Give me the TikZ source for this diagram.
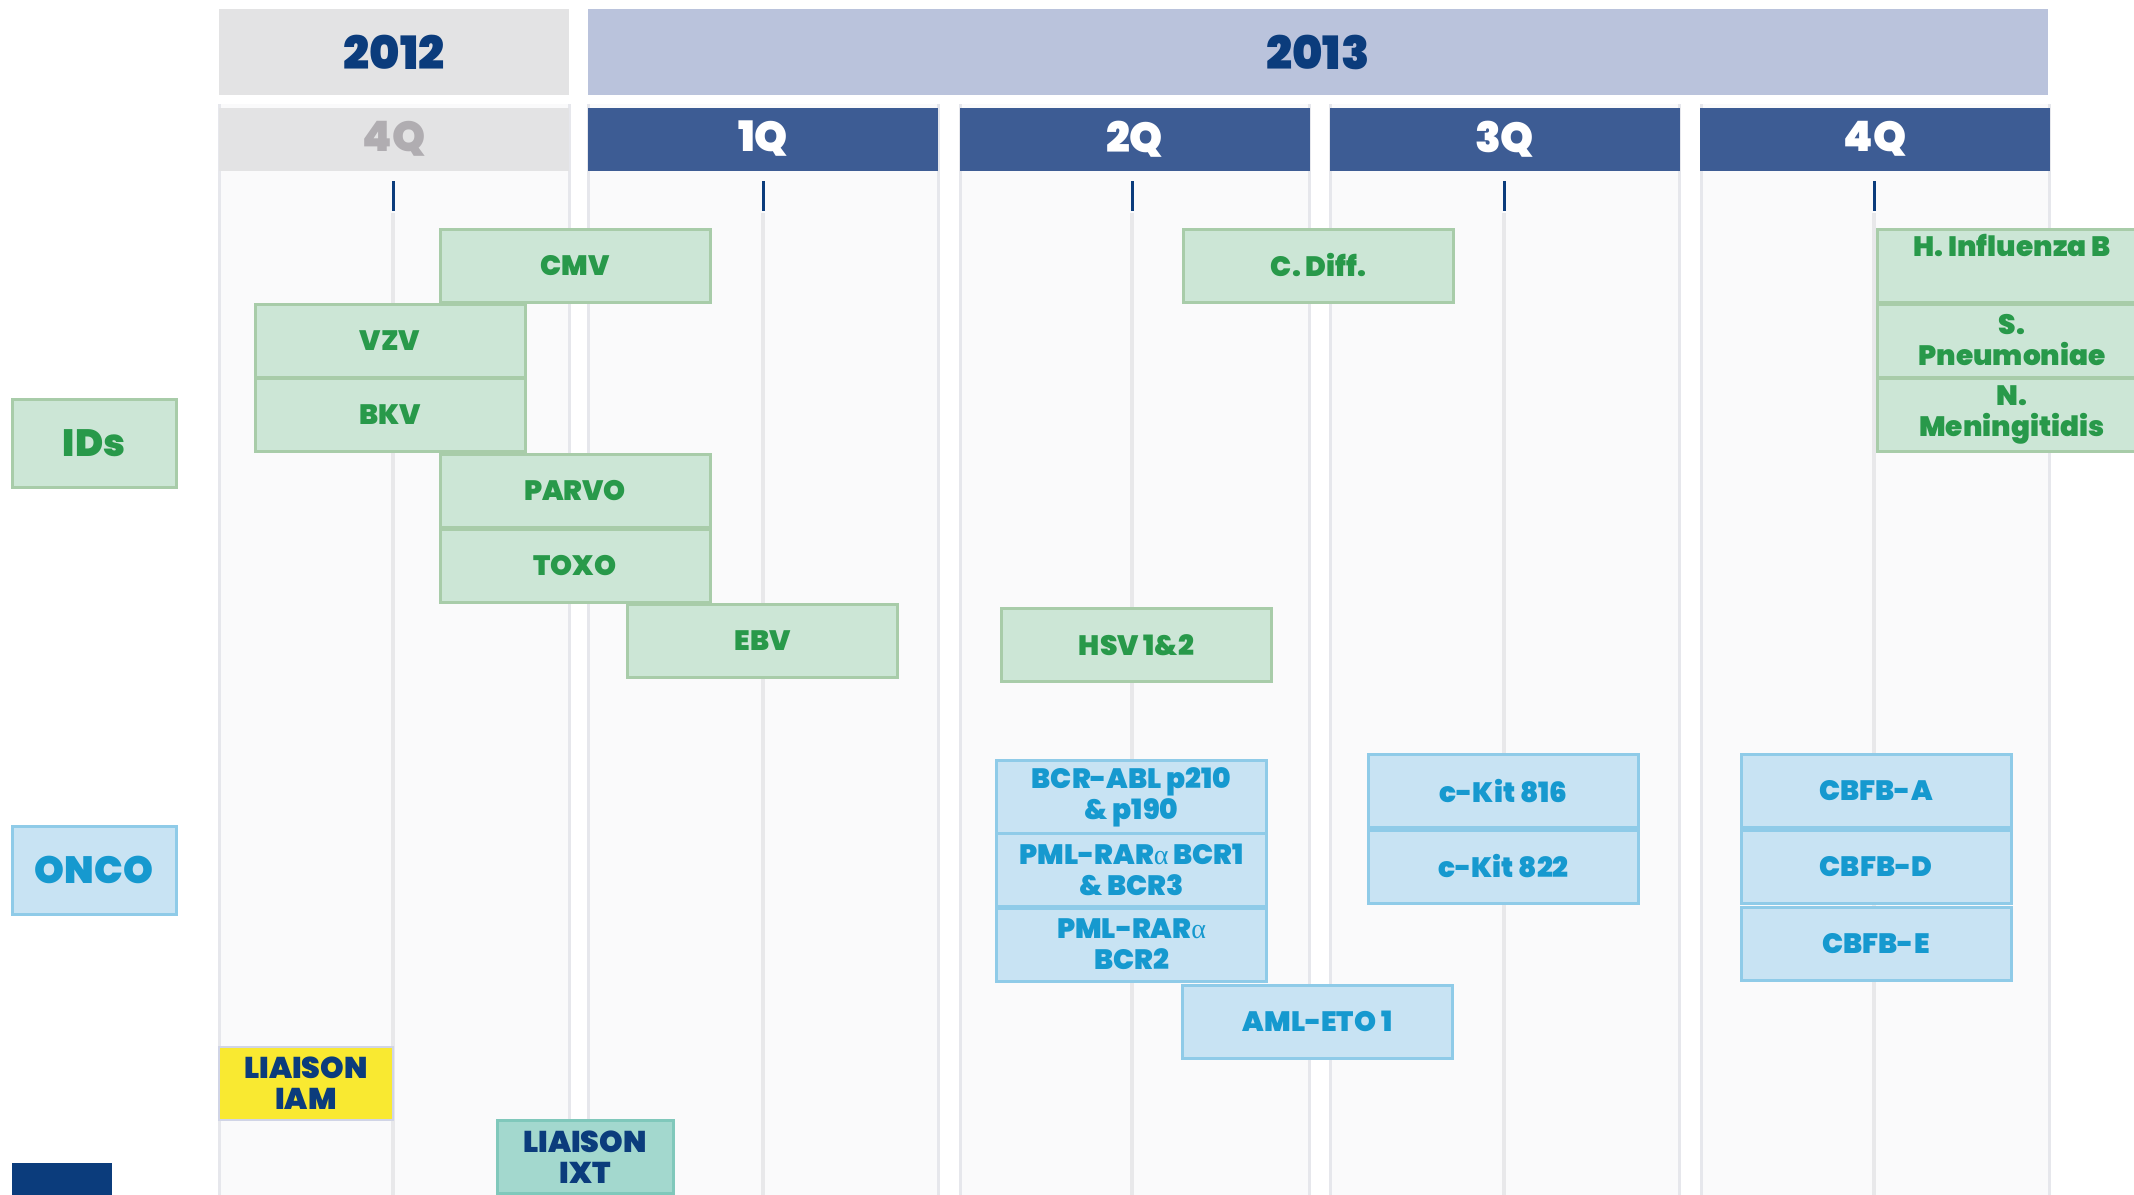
\documentclass[tikz,border=0pt]{standalone}
\usepackage{fontspec}
\setmainfont{Poppins Black}
\newfontfamily\blk{Poppins Black}
\newfontfamily\grk{Liberation Serif}
\definecolor{navy}{HTML}{0B3C7C}
\definecolor{y12}{HTML}{E3E3E4}
\definecolor{y13}{HTML}{BAC3DC}
\definecolor{qhd}{HTML}{3D5C94}
\definecolor{qgray}{HTML}{B0ADB1}
\definecolor{colbg}{HTML}{FAFAFB}
\definecolor{coledge}{HTML}{E6E7EC}
\definecolor{cline}{HTML}{E8E8EA}
\definecolor{gfill}{HTML}{CCE6D6}
\definecolor{gedge}{HTML}{A8CCA9}
\definecolor{gtext}{HTML}{28994A}
\definecolor{bfill}{HTML}{C8E3F3}
\definecolor{bedge}{HTML}{8FCBE8}
\definecolor{btext}{HTML}{1699CF}
\definecolor{yel}{HTML}{F9E931}
\definecolor{yedge}{HTML}{D0D4E6}
\definecolor{teal}{HTML}{A3D8CE}
\definecolor{tedge}{HTML}{80C8BB}
\begin{document}
\begin{tikzpicture}[x=0.5pt,y=-0.5pt,
  yearhd/.style={rectangle,inner sep=0pt,minimum height=43pt,text=navy,font=\blk\fontsize{23pt}{26pt}\selectfont},
  qhead/.style={rectangle,fill=qhd,inner sep=0pt,minimum width=175pt,minimum height=31.5pt,text=white,font=\blk\fontsize{21pt}{24pt}\selectfont},
  boxbase/.style={rectangle,inner sep=0pt,minimum width=135pt,minimum height=36.5pt,line width=1.5pt,align=center,font=\fontsize{14pt}{15.5pt}\selectfont},
  gbox/.style={boxbase,fill=gfill,draw=gedge,text=gtext},
  bbox/.style={boxbase,fill=bfill,draw=bedge,text=btext},
  rowlbl/.style={rectangle,inner sep=0pt,minimum width=82pt,minimum height=44pt,line width=1.5pt,font=\fontsize{19pt}{22pt}\selectfont},
  liaison/.style={rectangle,inner sep=0pt,minimum width=87pt,minimum height=36.5pt,line width=1pt,align=center,text=navy,font=\fontsize{15pt}{15.5pt}\selectfont},
]
\clip (0,0) rectangle (2134,1194);
\fill[white] (0,0) rectangle (2134,1194);
% column bodies
\foreach \l/\r in {219/569,588/938,960/1309,1330/1679,1701/2049}{
  \fill[colbg] (\l,104) rectangle (\r,1200);
  \draw[coledge,line width=1.5pt] (\l,104) -- (\l,1200);
  \draw[coledge,line width=1.5pt] (\r,104) -- (\r,1200);
}
% centre lines and ticks
\foreach \c in {393,763,1132,1504,1874}{
  \draw[cline,line width=1.6pt] (\c,213) -- (\c,1200);
  \draw[navy,line width=1.5pt] (\c,181) -- (\c,211);
}
% year headers
\node[yearhd,fill=y12,minimum width=175pt] (y2012) at (394,52) {2012};
\node[yearhd,fill=y13,minimum width=730pt] (y2013) at (1318,52) {2013};
% quarter headers
\node[qhead,fill=y12,text=qgray] (q4a) at (394,139) {4Q};
\node[qhead] (q1) at (763,139) {1Q};
\node[qhead] (q2) at (1134.5,139) {2Q};
\node[qhead] (q3) at (1504.5,139) {3Q};
\node[qhead] (q4) at (1875,139) {4Q};
% row labels
\node[rowlbl,fill=gfill,draw=gedge,text=gtext] (ids) at (94,443) {IDs};
\node[rowlbl,fill=bfill,draw=bedge,text=btext] (onco) at (94,870) {ONCO};
% ID boxes
\node[gbox] (cmv) at (575,265.5) {CMV};
\node[gbox] (vzv) at (390,340.5) {VZV};
\node[gbox] (bkv) at (390,415) {BKV};
\node[gbox] (parvo) at (575,490.5) {PARVO};
\node[gbox] (toxo) at (575,566) {TOXO};
\node[gbox] (ebv) at (762.5,641) {EBV};
\node[gbox] (hsv) at (1136.5,645) {HSV 1\&2};
\node[gbox] (cdiff) at (1318.5,265.5) {C. Diff.};
\node[gbox] (hinf) at (2012,265.5) {H. Influenza B\\\strut};
\node[gbox] (spn) at (2012,340.5) {S.\\Pneumoniae};
\node[gbox] (nmen) at (2012,415) {N.\\Meningitidis};
% ONCO boxes
\node[bbox] (bcr) at (1131.5,797) {BCR-ABL p210\\\& p190};
\node[bbox] (pml1) at (1131.5,870) {PML-RAR{\grk α} BCR1\\\& BCR3};
\node[bbox] (pml2) at (1131.5,944.5) {PML-RAR{\grk α}\\BCR2};
\node[bbox] (aml) at (1317.5,1021.5) {AML-ETO 1};
\node[bbox] (ck816) at (1503.5,791) {c-Kit 816};
\node[bbox] (ck822) at (1503.5,866.5) {c-Kit 822};
\node[bbox] (cbfba) at (1876,791) {CBFB-A};
\node[bbox] (cbfbd) at (1876,867) {CBFB-D};
\node[bbox] (cbfbe) at (1876,943.5) {CBFB-E};
% LIAISON
\node[liaison,fill=yel,draw=yedge] (iam) at (306,1083.5) {LIAISON\\IAM};
\node[liaison,fill=teal,draw=tedge,line width=1.5pt,minimum width=88pt] (ixt) at (585,1157) {LIAISON\\IXT};
% logo block
\fill[navy] (12,1163) rectangle (112,1200);
\end{tikzpicture}
\end{document}
